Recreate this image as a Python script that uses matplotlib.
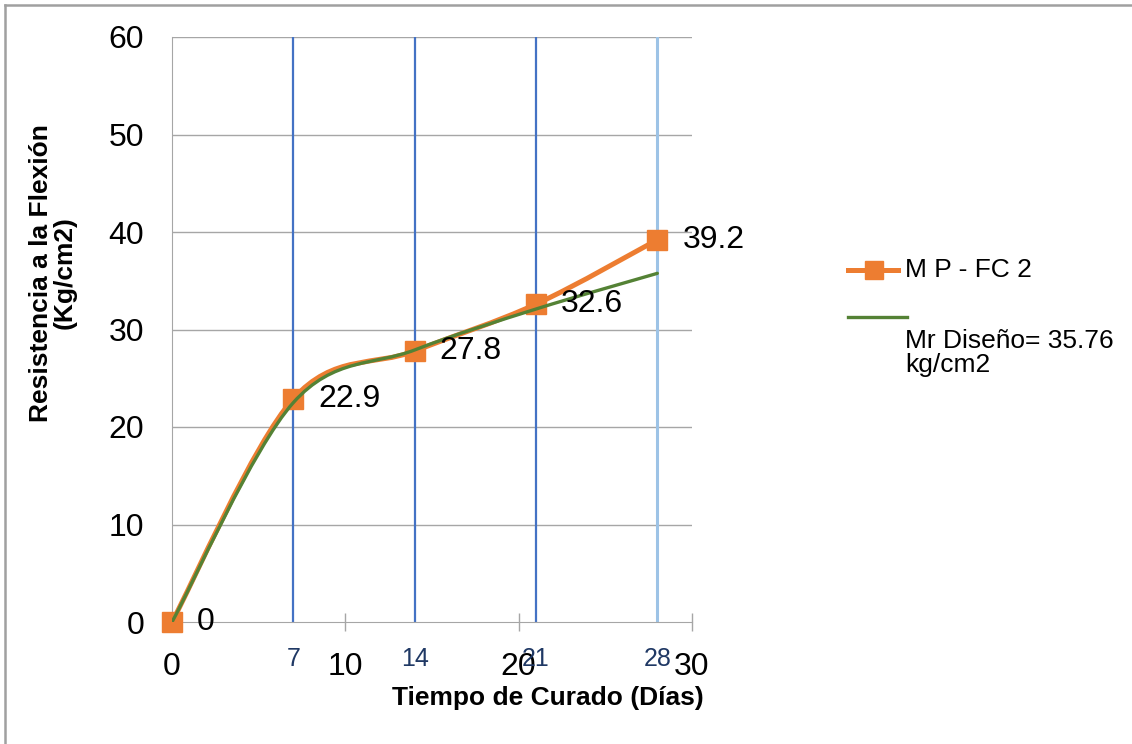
import matplotlib.pyplot as plt
import numpy as np
from matplotlib.path import Path
from matplotlib.patches import PathPatch
from matplotlib.lines import Line2D

plt.rcParams['font.family'] = ['Liberation Sans', 'DejaVu Sans']

# curing ages (days) and flexural strength
dias = [0, 7, 14, 21, 28]
mp_fc2 = [0, 22.9, 27.8, 32.6, 39.2]
mr_diseno = [0, 22.5, 27.9, 32.1, 35.76]
dias_ensayo = [7, 14, 21, 28]
x_ticks = [0, 10, 20, 30]
y_ticks = [0, 10, 20, 30, 40, 50, 60]


def smooth_path(xs, ys):
    # Bezier segments through every point (Catmull-Rom style control points)
    pts = np.column_stack([xs, ys]).astype(float)
    n = len(pts)
    verts = [pts[0]]
    codes = [Path.MOVETO]
    for i in range(n - 1):
        p0 = pts[i - 1] if i > 0 else pts[i]
        p1 = pts[i]
        p2 = pts[i + 1]
        p3 = pts[i + 2] if i + 2 < n else pts[i + 1]
        c1 = p1 + (p2 - p0) / 6.0
        c2 = p2 - (p3 - p1) / 6.0
        verts += [c1, c2, p2]
        codes += [Path.CURVE4] * 3
    return Path(verts, codes)


fig = plt.figure(figsize=(11.32, 7.44), dpi=100)
ax = fig.add_axes([172 / 1132, 1 - 622 / 744, 520 / 1132, 585 / 744])

ax.set_xlim(0, 30)
ax.set_ylim(0, 60)

for y in y_ticks[1:]:
    ax.axhline(y, color='#a6a6a6', lw=1, zorder=1)

for d in dias_ensayo:
    if d == 28:
        ax.axvline(d, color='#9dc3e6', lw=2.2, zorder=2)
    else:
        ax.axvline(d, color='#4472c4', lw=1.6, zorder=2)
    ax.annotate(str(d), xy=(d, 0), xytext=(0, -27), textcoords='offset points',
                ha='center', va='center', fontsize=18, color='#1f3864',
                annotation_clip=False)

orange = '#ed7d31'
green = '#548235'

ax.add_patch(PathPatch(smooth_path(dias, mp_fc2), fill=False, edgecolor=orange,
                       lw=3.6, capstyle='round', zorder=3))
ax.plot(dias, mp_fc2, ls='none', marker='s', ms=14, color=orange,
        clip_on=False, zorder=4)
ax.add_patch(PathPatch(smooth_path(dias, mr_diseno), fill=False, edgecolor=green,
                       lw=2.4, capstyle='round', zorder=5))

for x, y in zip(dias, mp_fc2):
    lbl = '0' if y == 0 else f'{y:.1f}'
    ax.annotate(lbl, xy=(x, y), xytext=(18, 0), textcoords='offset points',
                ha='left', va='center', fontsize=23, color='black',
                annotation_clip=False, zorder=6)

for side in ['top', 'right']:
    ax.spines[side].set_visible(False)
ax.spines['left'].set_color('#a6a6a6')
ax.spines['bottom'].set_color('#a6a6a6')

ax.set_xticks(x_ticks)
ax.set_yticks(y_ticks)
ax.tick_params(axis='x', direction='inout', length=13, width=1, color='#a6a6a6',
               labelsize=23, pad=15)
ax.tick_params(axis='y', length=0, labelsize=23, pad=20)

fig.text(548 / 1132, 1 - 698 / 744, 'Tiempo de Curado (Días)', ha='center',
         va='center', fontsize=19, fontweight='bold')
fig.text(53 / 1132, 1 - 273 / 744, 'Resistencia a la Flexión\n(Kg/cm2)',
         ha='center', va='center', rotation=90, fontsize=19, fontweight='bold',
         linespacing=1.0)

# legend on the right
fig.add_artist(Line2D([848 / 1132, 898 / 1132], [1 - 270 / 744] * 2, color=orange,
                      lw=3.6, transform=fig.transFigure))
fig.add_artist(Line2D([874 / 1132], [1 - 270 / 744], color=orange, marker='s',
                      ms=12.5, transform=fig.transFigure))
fig.text(905 / 1132, 1 - 270 / 744, 'M P - FC 2', ha='left', va='center', fontsize=19)
fig.add_artist(Line2D([848 / 1132, 907 / 1132], [1 - 317 / 744] * 2, color=green,
                      lw=2.4, transform=fig.transFigure))
fig.text(905 / 1132, 1 - 353 / 744, 'Mr Diseño= 35.76\nkg/cm2', ha='left',
         va='center', fontsize=19, linespacing=0.95)

# chart area frame
fig.add_artist(Line2D([5 / 1132, 5 / 1132], [0, 1 - 5 / 744], color='#a0a0a0',
                      lw=1.8, transform=fig.transFigure))
fig.add_artist(Line2D([5 / 1132, 1], [1 - 5 / 744] * 2, color='#a0a0a0',
                      lw=1.8, transform=fig.transFigure))

fig.savefig('out.png', dpi=100)
